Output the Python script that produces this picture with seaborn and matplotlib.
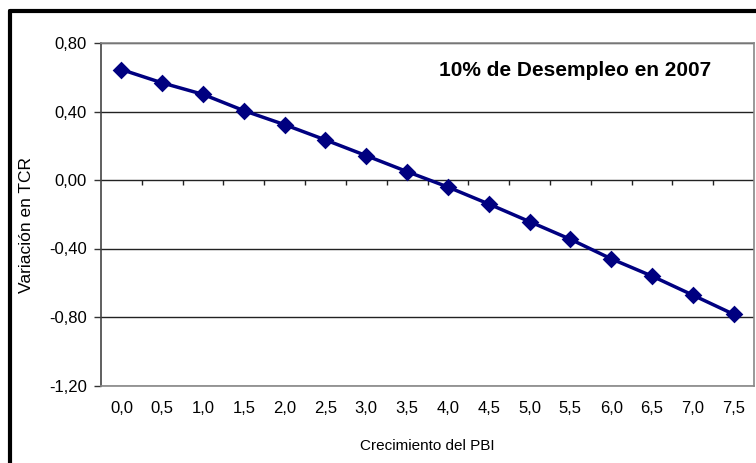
import numpy as np
import pandas as pd
import matplotlib
matplotlib.use("Agg")
import matplotlib.pyplot as plt
import seaborn as sns
from matplotlib.lines import Line2D

categories = ["0,0", "0,5", "1,0", "1,5", "2,0", "2,5", "3,0", "3,5",
              "4,0", "4,5", "5,0", "5,5", "6,0", "6,5", "7,0", "7,5"]
values = [0.645, 0.567, 0.500, 0.405, 0.323, 0.234, 0.142, 0.049,
          -0.041, -0.140, -0.243, -0.346, -0.460, -0.561, -0.672, -0.784]
y_ticks = [-1.2, -0.8, -0.4, 0.0, 0.4, 0.8]
y_ticklabels = ["-1,20", "-0,80", "-0,40", "0,00", "0,40", "0,80"]
annotation = "10% de Desempleo en 2007"
x_label = "Crecimiento del PBI"
y_label = "Variación en TCR"

df = pd.DataFrame({"PBI": pd.Categorical(categories, categories=categories, ordered=True),
                   "TCR": values})

sns.set_theme(style="white")
plt.rcParams['font.family'] = ['Liberation Sans', 'DejaVu Sans']
plt.rcParams['text.color'] = 'black'
plt.rcParams['axes.labelcolor'] = 'black'
plt.rcParams['xtick.color'] = 'black'
plt.rcParams['ytick.color'] = 'black'

fig = plt.figure(figsize=(7.56, 4.63), dpi=100)
ax = fig.add_axes([101/756, 1-385.5/463, (754-101)/756, (385.5-43)/463])

sns.pointplot(data=df, x="PBI", y="TCR", color="#000080", markers="D",
              linestyles="-", markersize=7, linewidth=2.5, ax=ax, zorder=5)

ax.set_xlim(-0.5, len(categories)-0.5)
ax.set_ylim(-1.2, 0.8)
ax.set_yticks(y_ticks)
ax.set_yticklabels(y_ticklabels, fontsize=12)
for y in y_ticks:
    ax.axhline(y, color="#222222", lw=1.0, zorder=1)

ax.set_xticks(range(len(categories)))
ax.set_xticklabels(categories, fontsize=12)
ax.tick_params(axis="x", length=0, pad=11)
ax.tick_params(axis="y", length=5, width=1, color="#333333", direction="out", pad=5, left=True)

# category boundary ticks on the zero line
ax.vlines(np.arange(0.5, len(categories)-0.5, 1), -0.03, 0, color="#222222", lw=1, zorder=2)

ax.set_xlabel(x_label, fontsize=11)
ax.set_ylabel(y_label, fontsize=12.5)
ax.xaxis.set_label_coords(0.5, (385.5-439)/342.5)
ax.yaxis.set_label_coords((34-101)/653, (385.5-225)/342.5)

for s in ["left"]:
    ax.spines[s].set_color("#444444")
    ax.spines[s].set_linewidth(1.2)
for s in ["right", "bottom", "top"]:
    ax.spines[s].set_color("#888888")
    ax.spines[s].set_linewidth(1.2)

ax.text((575-101)/653, (385.5-76)/342.5, annotation, transform=ax.transAxes,
        ha="center", va="baseline", fontsize=15, fontweight="bold", color="black")

# outer border (left and top)
fig.add_artist(Line2D([10/756, 10/756], [0, 1-11/463], transform=fig.transFigure, color="black", lw=3))
fig.add_artist(Line2D([10/756, 1], [1-11/463, 1-11/463], transform=fig.transFigure, color="black", lw=3))

fig.savefig("out.png", dpi=100)
